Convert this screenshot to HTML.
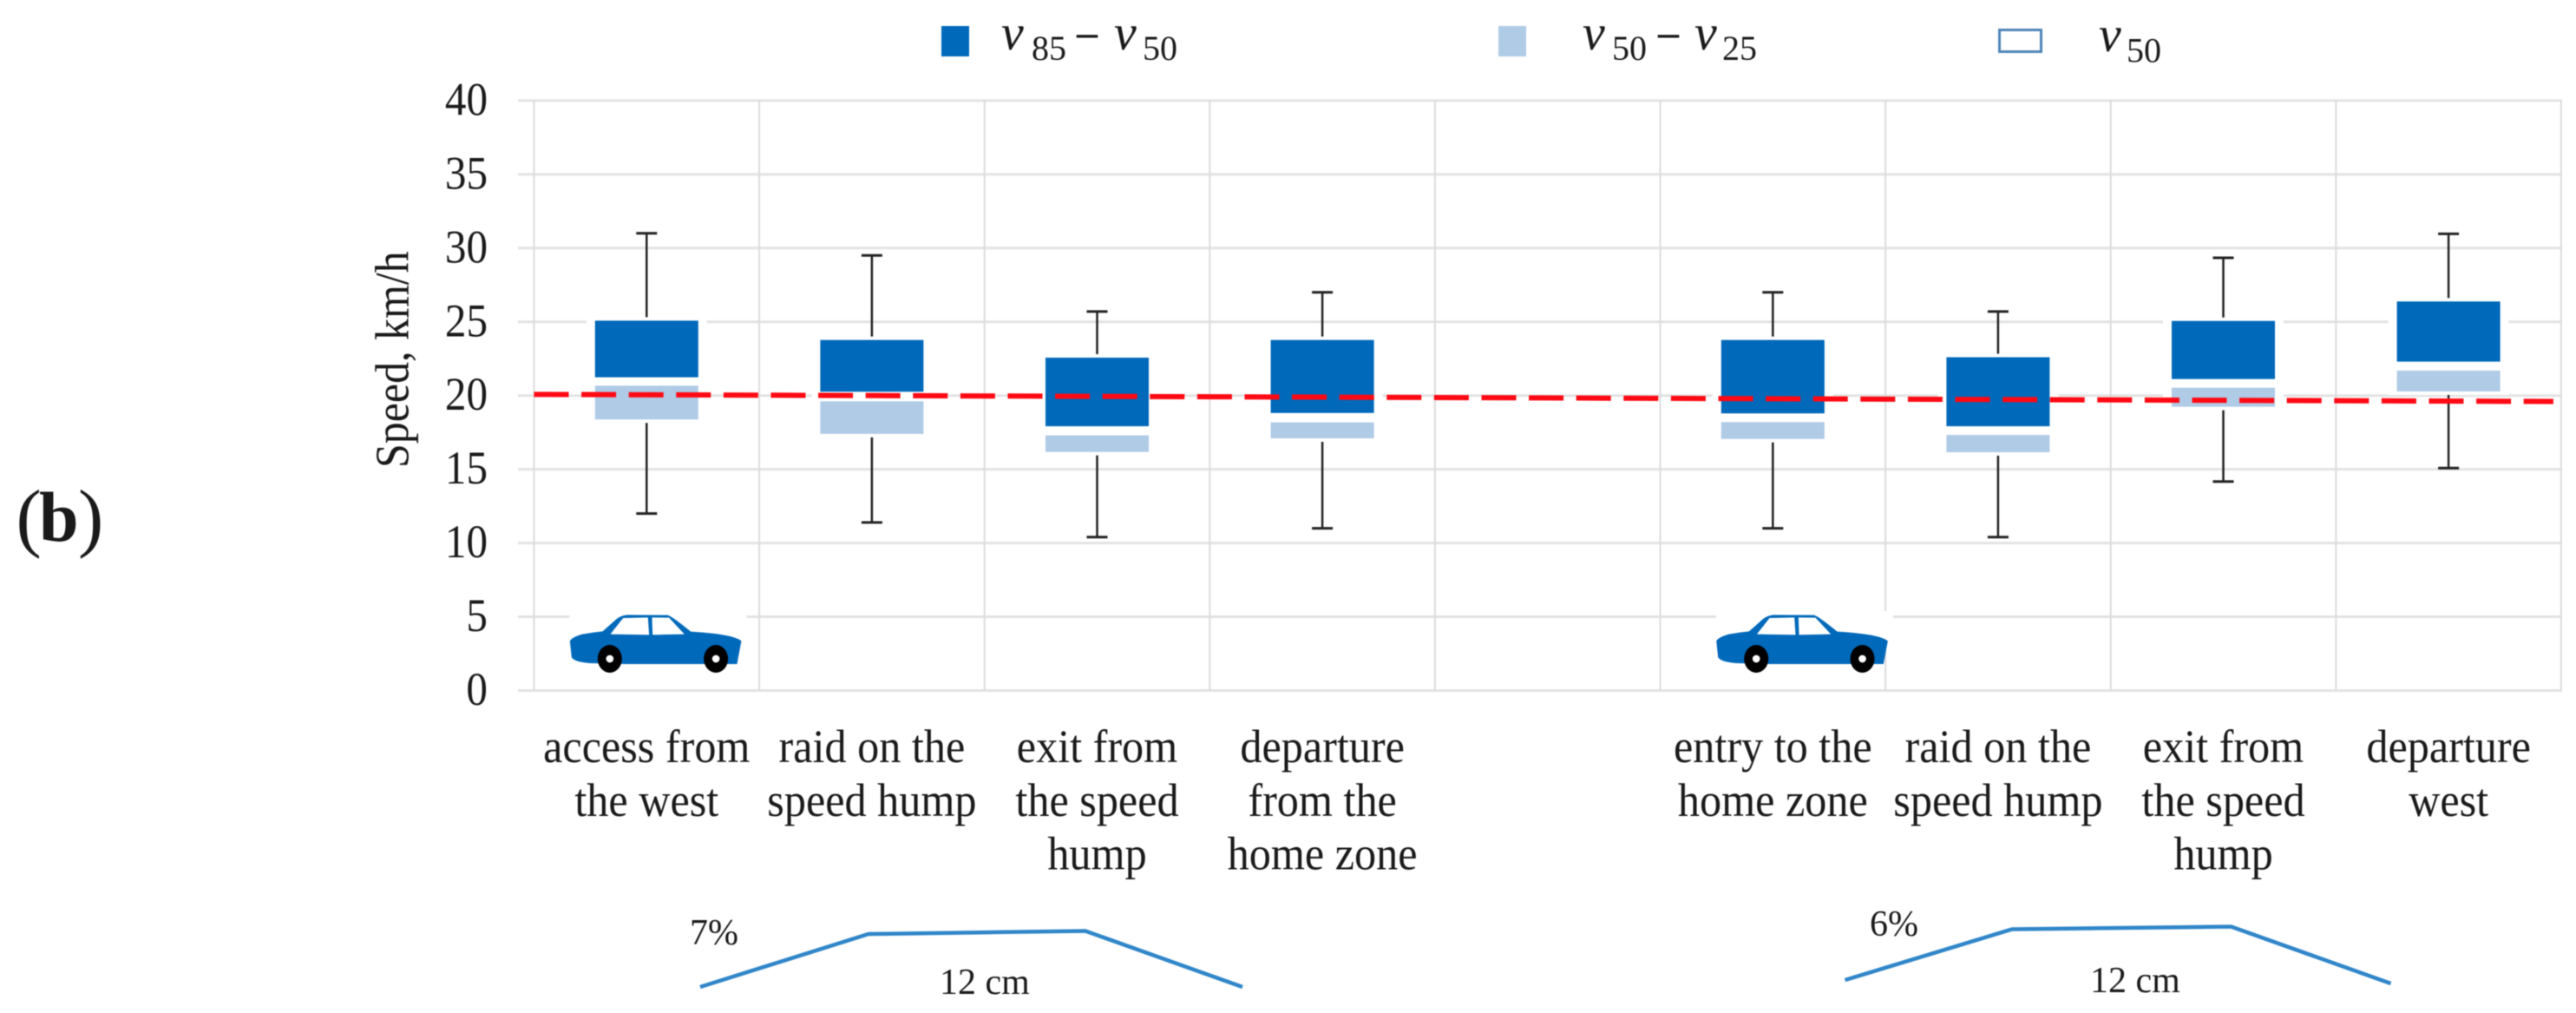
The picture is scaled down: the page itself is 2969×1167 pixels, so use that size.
<!DOCTYPE html>
<html lang="en">
<head>
<meta charset="utf-8">
<title>Speed percentiles across speed humps</title>
<style>
  html, body { margin: 0; padding: 0; background: #fff; }
  svg { display: block; filter: blur(0.6px); }
  text { font-family: "Liberation Serif", serif; fill: #1a1a1a; }
</style>
</head>
<body>
<svg id="chart" xmlns="http://www.w3.org/2000/svg" width="2969" height="1167" viewBox="0 0 2969 1167">
  <rect width="2969" height="1167" fill="#fff"/>

  <g id="grid"></g>
  <g id="whiskers"></g>
  <g id="boxes"></g>
  <g id="cars"></g>
  <g id="trend"></g>
  <g id="yticks"></g>
  <g id="xlabels"></g>

  <text><tspan x="18.5" y="625" font-size="88">(</tspan><tspan x="45" y="623" font-size="82" font-weight="bold">b</tspan><tspan x="90" y="625" font-size="88">)</tspan></text>
  <text transform="translate(470.5,539) rotate(-90) scale(0.9,1)" font-size="55.5">Speed, km/h</text>

  <g>
    <g>
      <rect x="1085" y="30" width="32" height="35" fill="#0069ba"/>
      <text font-size="58"><tspan font-style="italic" x="1154" y="57">v</tspan><tspan font-size="40" x="1189" y="69">85</tspan><tspan x="1241" y="53" font-weight="bold" font-size="48">–</tspan><tspan font-style="italic" x="1284" y="57">v</tspan><tspan font-size="40" x="1317" y="69">50</tspan></text>
    </g>
    <g>
      <rect x="1727" y="30" width="32" height="35" fill="#afcbe6"/>
      <text font-size="58"><tspan font-style="italic" x="1824" y="57">v</tspan><tspan font-size="40" x="1858" y="69">50</tspan><tspan x="1911" y="53" font-weight="bold" font-size="48">–</tspan><tspan font-style="italic" x="1953" y="57">v</tspan><tspan font-size="40" x="1985" y="69">25</tspan></text>
    </g>
    <g>
      <rect x="2304.5" y="34.5" width="48" height="25" fill="#fff" stroke="#4f86b8" stroke-width="3"/>
      <text font-size="58"><tspan font-style="italic" x="2419" y="59">v</tspan><tspan font-size="40" x="2451" y="71.5">50</tspan></text>
    </g>
  </g>

  <g>
    <polyline points="807,1137 1001,1076 1251,1072.5 1432,1137" fill="none" stroke="#2f86c8" stroke-width="4.5"/>
    <text x="795" y="1088" font-size="42">7%</text>
    <text x="1083" y="1145" font-size="42">12 cm</text>
  </g>
  <g>
    <polyline points="2126.5,1129 2319,1070.5 2571.5,1067.5 2755.5,1133" fill="none" stroke="#2f86c8" stroke-width="4.5"/>
    <text x="2155" y="1078" font-size="42">6%</text>
    <text x="2409" y="1143" font-size="42">12 cm</text>
  </g>
</svg>

<script>
const categories = [
  ['access from', 'the west'],
  ['raid on the', 'speed hump'],
  ['exit from', 'the speed', 'hump'],
  ['departure', 'from the', 'home zone'],
  [],
  ['entry to the', 'home zone'],
  ['raid on the', 'speed hump'],
  ['exit from', 'the speed', 'hump'],
  ['departure', 'west']
];
const yTickLabels = [0, 5, 10, 15, 20, 25, 30, 35, 40];
const v85Top      = [25.08, 23.77, 22.57, 23.77, null, 23.77, 22.60, 25.06, 26.38];
const v50Upper    = [21.24, 20.26, 17.92, 18.82, null, 18.79, 17.92, 21.12, 22.30];
const v50Lower    = [20.67, 19.61, 17.30, 18.18, null, 18.20, 17.33, 20.53, 21.69];
const v25Bottom   = [18.38, 17.40, 16.18, 17.10, null, 17.06, 16.16, 19.24, 20.28];
const whiskerHigh = [31.00, 29.50, 25.70, 27.00, null, 27.00, 25.70, 29.34, 30.97];
const whiskerLow  = [12.00, 11.40, 10.40, 11.00, null, 11.00, 10.40, 14.17, 15.08];
const trendValues = [20.08, 19.60];
const carSlots = [0, 5.09];

const NS = 'http://www.w3.org/2000/svg';
const plotLeft = 615.5, bandW = 259.6, yZero = 795.5, yUnit = 16.99;
function xBand(i) { return plotLeft + bandW * i; }
function xCenter(i) { return xBand(i) + bandW / 2; }
function yVal(v) { return yZero - v * yUnit; }
function make(tag, parent, attrs) {
  const el = document.createElementNS(NS, tag);
  for (const k in attrs) el.setAttribute(k, attrs[k]);
  parent.appendChild(el);
  return el;
}

const gridG = document.getElementById('grid');
const whiskerG = document.getElementById('whiskers');
const boxG = document.getElementById('boxes');
const carG = document.getElementById('cars');
const trendG = document.getElementById('trend');
const tickG = document.getElementById('yticks');
const labelG = document.getElementById('xlabels');

yTickLabels.forEach(function (t) {
  const line = make('line', gridG, { x1: 597, x2: xBand(categories.length) + 1, y1: yVal(t), y2: yVal(t), stroke: '#e3e3e3', 'stroke-width': 3 });
  
  
  const label = make('text', tickG, { transform: 'translate(562,' + (yVal(t) + 16.5) + ') scale(0.91,1)', 'text-anchor': 'end', 'font-size': 54 });
  
  
  label.textContent = t;
});

for (let i = 0; i <= categories.length; i++) {
  const line = make('line', gridG, { x1: xBand(i), x2: xBand(i), y1: yVal(40), y2: yVal(0), stroke: '#dcdcdc', 'stroke-width': 2 });
  
  
}

categories.forEach(function (lines, i) {
  lines.forEach(function (txt, j) {
    const label = make('text', labelG, { transform: 'translate(' + xCenter(i) + ',' + (878 + j * 61.8) + ') scale(0.93,1)', 'text-anchor': 'middle', 'font-size': 54 });
    
    
    label.textContent = txt;
  });
  if (v85Top[i] === null) return;
  const cx = xCenter(i), boxW = 119, capW = 24;

  const stem = make('line', whiskerG, { x1: cx, x2: cx, y1: yVal(whiskerHigh[i]), y2: yVal(whiskerLow[i]), stroke: '#222', 'stroke-width': 2.5 });
  
  
  const capHigh = make('line', whiskerG, { x1: cx - capW / 2, x2: cx + capW / 2, y1: yVal(whiskerHigh[i]), y2: yVal(whiskerHigh[i]), stroke: '#222', 'stroke-width': 3 });
  
  
  const capLow = make('line', whiskerG, { x1: cx - capW / 2, x2: cx + capW / 2, y1: yVal(whiskerLow[i]), y2: yVal(whiskerLow[i]), stroke: '#222', 'stroke-width': 3 });
  
  

  const halo = make('rect', boxG, { x: cx - boxW / 2 - 10, width: boxW + 20, y: yVal(v85Top[i]) - 4, height: yVal(v25Bottom[i]) - yVal(v85Top[i]) + 8, fill: '#fff' });
  
  
  const dark = make('rect', boxG, { x: cx - boxW / 2, width: boxW, y: yVal(v85Top[i]), height: yVal(v50Upper[i]) - yVal(v85Top[i]), fill: '#0069ba' });
  
  
  const light = make('rect', boxG, { x: cx - boxW / 2, width: boxW, y: yVal(v50Lower[i]), height: yVal(v25Bottom[i]) - yVal(v50Lower[i]), fill: '#afcbe6' });
  
  
});

const trend = make('line', trendG, {
  x1: xBand(0), x2: xBand(categories.length) - 9,
  y1: yVal(trendValues[0]), y2: yVal(trendValues[1]),
  stroke: '#ff0a14', 'stroke-width': 6, 'stroke-dasharray': '40 14.6'
});



carSlots.forEach(function (slot) {
  const g = make('g', carG, { transform: 'translate(' + (xBand(slot) + 41) + ',660)' });
  
  
  const bg = make('rect', g, { x: 0, y: 44, width: 204, height: 46, fill: '#fff' });
  
  
  const inner = make('g', g, { transform: 'translate(-57,0) scale(0.3333)' });
  
  
  const body = make('path', inner, { fill: '#0069ba', d: 'M172 235 Q180 222 215 212 Q250 205 285 202 L335 158 Q350 147 370 145 L510 146 Q525 150 590 203 Q680 208 730 220 Q755 227 765 235 L750 315 L360 315 L240 312 Q190 308 178 292 Z' });
  
  
  const w1 = make('path', inner, { fill: '#fff', d: 'M312 212 L356 156 L442 154 L446 214 Z' });
  
  
  const w2 = make('path', inner, { fill: '#fff', d: 'M458 214 L456 154 L515 155 L568 212 Z' });
  
  
  [310, 677].forEach(function (cx) {
    const tire = make('ellipse', inner, { cx: cx, cy: 297, rx: 42, ry: 48, fill: '#000' });
    
    
    const hub = make('circle', inner, { cx: cx, cy: 297, r: 13, fill: '#fff' });
    
    
  });
});
</script>
</body>
</html>
